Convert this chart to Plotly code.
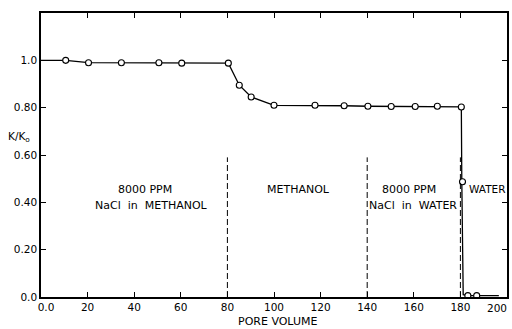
import plotly.graph_objects as go

# Measured points (open circles)
pv_pts = [10.6, 20.4, 34.5, 50.6, 60.4, 80.4, 85.1, 90.2, 100.0, 117.6, 130.1,
          140.3, 150.3, 160.6, 170.1, 180.4, 180.9, 183.2, 187.0]
k_pts = [1.0, 0.99, 0.99, 0.99, 0.988, 0.988, 0.895, 0.845, 0.81, 0.81, 0.808,
         0.806, 0.805, 0.805, 0.806, 0.803, 0.487, 0.006, 0.006]

# Connecting line (includes start at axis, sharp drop corner and tail)
pv_line = [0.0, 10.6, 20.4, 34.5, 50.6, 60.4, 80.4, 85.1, 90.2, 100.0, 117.6, 130.1,
           140.3, 150.3, 160.6, 170.1, 180.4, 180.6, 181.2, 183.2, 187.0, 196.5]
k_line = [1.0, 1.0, 0.99, 0.99, 0.99, 0.988, 0.988, 0.895, 0.845, 0.81, 0.81, 0.808,
          0.806, 0.805, 0.805, 0.806, 0.803, 0.487, 0.01, 0.006, 0.006, 0.006]

# Stage boundaries (dashed)
boundaries = [80, 140, 180]
boundary_top = 0.59

x_tickvals = [0, 20, 40, 60, 80, 100, 120, 140, 160, 180]
x_ticktext = ["\u00a0\u00a0\u00a00.0", "20", "40", "60", "80", "100", "120", "140", "160", "180"]
x_last_val = 200
x_last_label = "200"
y_tickvals = [0.0, 0.2, 0.4, 0.6, 0.8, 1.0]
y_ticktext = ["0.0", "0.20", "0.40", "0.60", "0.80", "1.0"]

font_family = "DejaVu Sans"

fig = go.Figure()
fig.add_trace(go.Scatter(x=pv_line, y=k_line, mode="lines",
                         line=dict(color="black", width=1.3), hoverinfo="skip"))
fig.add_trace(go.Scatter(x=pv_pts, y=k_pts, mode="markers",
                         marker=dict(symbol="circle", size=6, color="white",
                                     line=dict(color="black", width=1.1))))

for b in boundaries:
    fig.add_shape(type="line", x0=b, x1=b, y0=0, y1=boundary_top, xref="x", yref="y",
                  line=dict(color="black", width=1, dash="6px,3px"))

labels = [
    (145, 0.455, "8000 PPM", 11),
    (152, 0.388, "NaCl\u00a0 in\u00a0 METHANOL", 11),
    (300, 0.455, "METHANOL", 11),
    (411, 0.455, "8000 PPM", 11),
    (415, 0.388, "NaCl\u00a0 in\u00a0 WATER", 11),
    (489, 0.455, "WATER", 10.5),
]
for px, yv, txt, fs in labels:
    xv = (px - 41) / 468 * 200
    fig.add_annotation(x=xv, y=yv, xref="x", yref="y", text=txt, showarrow=False,
                       xanchor="center", yanchor="middle",
                       font=dict(family=font_family, size=fs, color="black"))

# last x tick label, kept inside the picture's right edge
fig.add_annotation(x=x_last_val, y=-0.04, xref="x", yref="paper", text=x_last_label,
                   showarrow=False, xanchor="right", yanchor="middle", xshift=2,
                   font=dict(family=font_family, size=10.5, color="black"))

fig.add_annotation(x=-0.047, y=0.565, xref="paper", yref="paper", text="K/K<sub>o</sub>",
                   showarrow=False, xanchor="center", yanchor="middle",
                   font=dict(family=font_family, size=10.5, color="black"))
fig.add_annotation(x=0.507, y=-0.088, xref="paper", yref="paper", text="PORE VOLUME",
                   showarrow=False, xanchor="center", yanchor="middle",
                   font=dict(family=font_family, size=11, color="black"))

fig.update_xaxes(range=[0, 200], tickvals=x_tickvals, ticktext=x_ticktext,
                 ticks="inside", ticklen=5, tickwidth=1.2, tickcolor="black",
                 showline=True, linecolor="black", linewidth=1.5, mirror="ticks",
                 showgrid=False, zeroline=False,
                 tickfont=dict(family=font_family, size=10.5, color="black"))
fig.update_yaxes(range=[0, 1.2], tickvals=y_tickvals, ticktext=y_ticktext,
                 ticks="inside", ticklen=5, tickwidth=1.2, tickcolor="black",
                 showline=True, linecolor="black", linewidth=1.5, mirror="ticks",
                 showgrid=False, zeroline=False,
                 tickfont=dict(family=font_family, size=10.5, color="black"))

fig.update_layout(width=512, height=329, margin=dict(l=41, r=3, t=13, b=32),
                  plot_bgcolor="white", paper_bgcolor="white", showlegend=False,
                  font=dict(family=font_family, color="black"))

fig.write_html("out.html", config={"displayModeBar": False})
